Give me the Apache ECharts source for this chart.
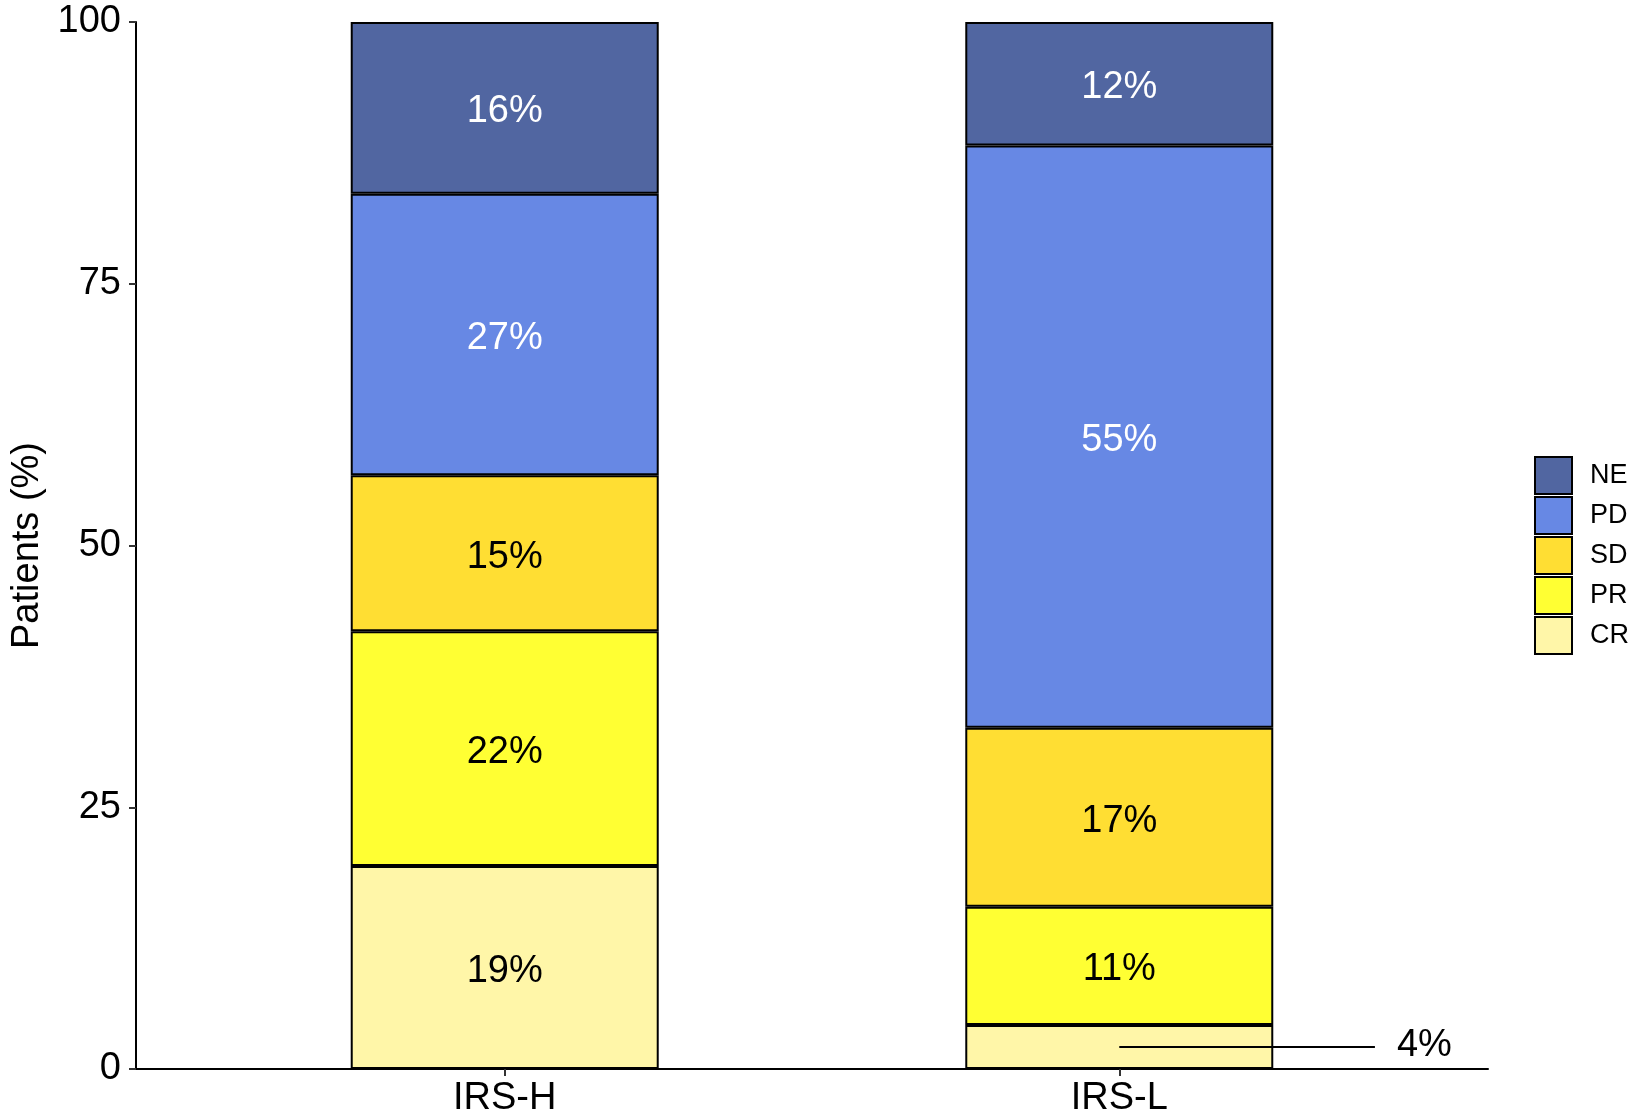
<!DOCTYPE html>
<html>
<head>
<meta charset="utf-8">
<script src="https://cdn.jsdelivr.net/npm/echarts@6/dist/echarts.min.js"></script>
<style>
  html, body { margin: 0; padding: 0; background: #fff; }
  #chart { width: 1646px; height: 1118px; }
</style>
</head>
<body>
<div id="chart"></div>
<script>
// groups on the x axis, sitting at x = 1 and x = 2
const categories = ['IRS-H', 'IRS-L'];
const categoryPos = [1, 2];

// response classes, bottom of the stack first
const responses = ['CR', 'PR', 'SD', 'PD', 'NE'];
const legendOrder = ['NE', 'PD', 'SD', 'PR', 'CR'];

// share of patients (%) per group
const crValues = [19.4, 4.2];
const prValues = [22.4, 11.3];
const sdValues = [14.9, 17.1];
const pdValues = [26.9, 55.6];
const neValues = [16.4, 11.8];

// text printed on each segment
const crLabels = ['19%', '4%'];
const prLabels = ['22%', '11%'];
const sdLabels = ['15%', '17%'];
const pdLabels = ['27%', '55%'];
const neLabels = ['16%', '12%'];

const yTicks = [0, 25, 50, 75, 100];

const FONT = "'Liberation Sans', Arial, sans-serif";

const colors = {
  CR: '#FFF6A8',
  PR: '#FFFF33',
  SD: '#FFDE33',
  PD: '#6788E4',
  NE: '#5166A1'
};
const textColors = { CR: '#000', PR: '#000', SD: '#000', PD: '#fff', NE: '#fff' };

const valuesBy = { CR: crValues, PR: prValues, SD: sdValues, PD: pdValues, NE: neValues };
const labelsBy = { CR: crLabels, PR: prLabels, SD: sdLabels, PD: pdLabels, NE: neLabels };

// the thin IRS-L CR slice gets its label pulled out to the right
const calloutGroup = 1;

const chart = echarts.init(document.getElementById('chart'));

// value goes in column 0 so the stack sums the y values, not the x positions
const barSeries = responses.map(r => ({
  name: r,
  type: 'bar',
  stack: 'total',
  barWidth: 308,
  encode: { x: 1, y: 0 },
  itemStyle: { color: colors[r], borderColor: '#000', borderWidth: 2 },
  label: {
    show: true,
    position: 'inside',
    offset: [0, 4],
    color: textColors[r],
    fontFamily: FONT,
    fontSize: 38,
    formatter: p => labelsBy[r][p.dataIndex]
  },
  data: valuesBy[r].map((v, i) => ({
    value: [v, categoryPos[i]],
    label: { show: !(r === 'CR' && i === calloutGroup) }
  }))
}));

const calloutY = crValues[calloutGroup] / 2;
const calloutLine = {
  name: 'callout',
  type: 'line',
  symbol: 'none',
  silent: true,
  z: 5,
  lineStyle: { color: '#000', width: 2 },
  data: [
    [categoryPos[calloutGroup], calloutY],
    [categoryPos[calloutGroup] + 0.416, calloutY]
  ],
  endLabel: {
    show: true,
    distance: 22,
    offset: [0, -1],
    color: '#000',
    fontFamily: FONT,
    fontSize: 38,
    formatter: () => crLabels[calloutGroup]
  }
};

chart.setOption({
  backgroundColor: '#fff',
  animation: false,
  grid: { left: 136, right: 158, top: 22, bottom: 49 },
  legend: {
    data: legendOrder,
    orient: 'vertical',
    left: 1529,
    top: 451,
    itemWidth: 37,
    itemHeight: 37,
    itemGap: 1,
    icon: 'rect',
    itemStyle: { borderColor: '#000', borderWidth: 2 },
    textStyle: { fontFamily: FONT, fontSize: 27, color: '#000', padding: [0, 0, 0, 13] }
  },
  xAxis: {
    type: 'value',
    min: 0.4,
    max: 2.6,
    splitLine: { show: false },
    axisLine: { show: true, onZero: false, lineStyle: { color: '#000', width: 2 } },
    axisTick: { show: true, customValues: categoryPos, length: 7, lineStyle: { color: '#333', width: 2 } },
    axisLabel: {
      customValues: categoryPos,
      margin: 11,
      color: '#000',
      fontFamily: FONT,
      fontSize: 38,
      formatter: v => categories[categoryPos.indexOf(v)]
    }
  },
  yAxis: {
    type: 'value',
    min: 0,
    max: 100,
    interval: 25,
    name: 'Patients (%)',
    nameLocation: 'middle',
    nameGap: 86,
    nameTextStyle: { fontFamily: FONT, fontSize: 38, color: '#000' },
    splitLine: { show: false },
    axisLine: { show: true, lineStyle: { color: '#000', width: 2 } },
    axisTick: { show: true, length: 7, lineStyle: { color: '#333', width: 2 } },
    axisLabel: {
      margin: 15,
      color: '#000',
      fontFamily: FONT,
      fontSize: 38,
      formatter: v => (yTicks.includes(v) ? String(v) : '')
    }
  },
  series: [...barSeries, calloutLine]
});
</script>
</body>
</html>
